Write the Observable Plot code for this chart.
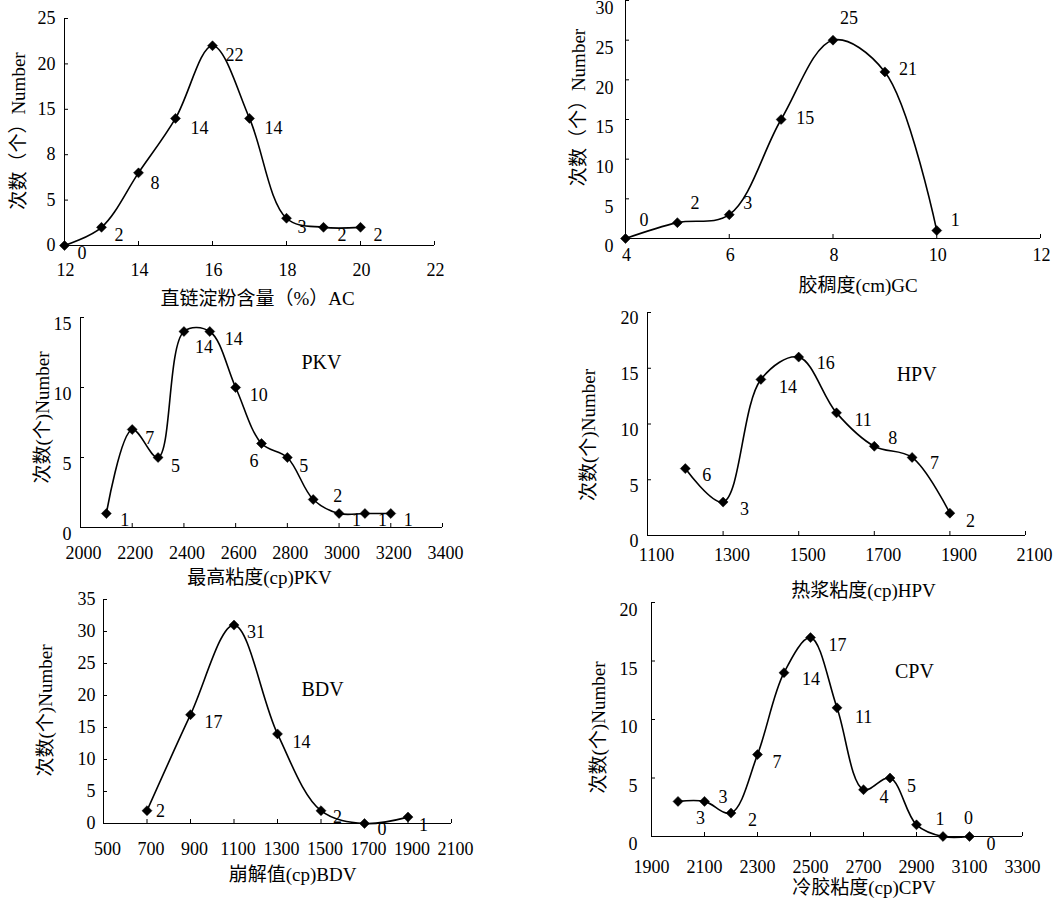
<!DOCTYPE html>
<html><head><meta charset="utf-8">
<script src="https://cdn.jsdelivr.net/npm/d3@7"></script>
<script src="https://cdn.jsdelivr.net/npm/@observablehq/plot@0.6"></script>
<style>
body{margin:0;background:#fff;}
#wrap{position:relative;width:1059px;height:900px;overflow:hidden;background:#fff;}
#wrap svg{position:absolute;}
</style></head><body><div id="wrap"></div>
<script>
// ---- data ----
const acX = [12,13,14,15,16,17,18,19,20];
const acN = [0,2,8,14,22,14,3,2,2];
const acXTicks = [12,14,16,18,20,22];
const acYTicks = [0,5,10,15,20,25];
const acYTickLabels = ["0","5","8","15","20","25"];

const gcX = [4,5,6,7,8,9,10];
const gcN = [0,2,3,15,25,21,1];
const gcXTicks = [4,6,8,10,12];
const gcYTicks = [0,5,10,15,20,25,30];

const pkvX = [2100,2200,2300,2400,2500,2600,2700,2800,2900,3000,3100,3200];
const pkvN = [1,7,5,14,14,10,6,5,2,1,1,1];
const pkvXTicks = [2000,2200,2400,2600,2800,3000,3200,3400];
const pkvYTicks = [0,5,10,15];

const hpvX = [1200,1300,1400,1500,1600,1700,1800,1900];
const hpvN = [6,3,14,16,11,8,7,2];
const hpvXTicks = [1100,1300,1500,1700,1900,2100];
const hpvYTicks = [0,5,10,15,20];

const bdvX = [700,900,1100,1300,1500,1700,1900];
const bdvN = [2,17,31,14,2,0,1];
const bdvXTicks = [500,700,900,1100,1300,1500,1700,1900,2100];
const bdvYTicks = [0,5,10,15,20,25,30,35];

const cpvX = [2000,2100,2200,2300,2400,2500,2600,2700,2800,2900,3000,3100];
const cpvN = [3,3,2,7,14,17,11,4,5,1,0,0];
const cpvXTicks = [1900,2100,2300,2500,2700,2900,3100,3300];
const cpvYTicks = [0,5,10,15,20];

// ---- label offsets (pixels) ----
const acOff = [[13,8],[13,8],[12,10],[15,10],[13,9],[15,10],[11,9],[14,8],[13,8]];
const gcOff = [[14,-18],[13,-19],[14,-11],[15,-1],[7,-22],[14,-3],[14,-10]];
const pkvOff = [[14,7],[13,9],[13,9],[11,16],[15,8],[14,8],[-12,18],[12,9],[20,-3],[13,7],[13,7],[13,7]];
const hpvOff = [[17,7],[17,7],[18,8],[18,6],[18,7],[14,-8],[18,6],[16,8]];
const bdvOff = [[9,1],[14,8],[13,7],[15,8],[12,7],[13,6],[11,8]];
const cpvOff = [[18,17],[14,-4],[17,7],[15,8],[18,7],[18,8],[18,9],[16,8],[17,8],[19,-6],[21,-18],[17,8]];

const FONT = "'Liberation Serif','Times New Roman','Noto Sans CJK SC',serif";
const wrap = document.getElementById("wrap");

function panel(c) {
  const [L, T, W, H] = c.box;
  const [x0, x1, yTop, yBot] = c.frame;
  const xmin = c.xDomain[0], ymin = c.yDomain[0];
  const xPerPx = (c.xDomain[1] - c.xDomain[0]) / (x1 - x0);
  const yPerPx = (c.yDomain[1] - c.yDomain[0]) / (yBot - yTop);
  const tick = 4;
  const data = c.xs.map((x, i) => ({x, y: c.ys[i]}));
  const yFmt = c.yLabels ? (d => c.yLabels[c.yTicks.indexOf(d)]) : (d => String(d));
  const marks = [
    Plot.ruleY([ymin], {stroke: "#000", strokeWidth: 1}),
    Plot.ruleX([xmin], {stroke: "#000", strokeWidth: 1}),
    // inward tick marks
    Plot.ruleX(c.xTicks, {x: d => d, y1: () => ymin, y2: () => ymin + tick * yPerPx, stroke: "#000", strokeWidth: 1}),
    Plot.ruleY(c.yTicks, {y: d => d, x1: () => xmin, x2: () => xmin + tick * xPerPx, stroke: "#000", strokeWidth: 1}),
    // tick labels
    Plot.text(c.xTicks, {x: d => d, y: () => ymin, text: d => String(d), dx: c.xLabDx, dy: c.xLabDy, fontSize: 18, fill: "#000"}),
    Plot.text(c.yTicks, {x: () => xmin, y: d => d, text: yFmt, dx: -c.yPad, dy: c.yDy, textAnchor: "end", fontSize: 18, fill: "#000"}),
    Plot.line(data, {x: "x", y: "y", curve: "catmull-rom", stroke: "#000", strokeWidth: 1.6}),
    Plot.dot(data, {x: "x", y: "y", symbol: "diamond2", r: 4.5, fill: "#000", stroke: "#000", strokeWidth: 0.5}),
    ...data.map((d, i) => Plot.text([d], {x: "x", y: "y", text: e => String(e.y), dx: c.off[i][0], dy: c.off[i][1], textAnchor: "start", fontSize: 18, fill: "#000"})),
    Plot.text([c.xTitle], {frameAnchor: "bottom", textAnchor: "middle", lineAnchor: "middle", dx: c.xTitlePos[0], dy: c.xTitlePos[1], fontSize: 19, fill: "#000"}),
    Plot.text([c.yTitle], {frameAnchor: "left", textAnchor: "middle", lineAnchor: "middle", rotate: -90, dx: c.yTitlePos[0], dy: c.yTitlePos[1], fontSize: 19, fill: "#000"})
  ];
  if (c.tag) marks.push(Plot.text([{x: c.tagXY[0], y: c.tagXY[1], t: c.tag}], {x: "x", y: "y", text: "t", fontSize: 20, fill: "#000"}));
  const svg = Plot.plot({
    width: W, height: H,
    marginLeft: x0 - L, marginRight: L + W - x1, marginTop: yTop - T, marginBottom: T + H - yBot,
    x: {domain: c.xDomain, axis: null},
    y: {domain: c.yDomain, axis: null},
    style: {fontFamily: FONT, fontSize: "18px", color: "#000", background: "transparent", overflow: "visible"},
    marks
  });
  svg.style.left = L + "px";
  svg.style.top = T + "px";
  wrap.appendChild(svg);
}

panel({box: [0, 0, 540, 305], frame: [64, 434, 18, 245], xDomain: [12, 22], yDomain: [0, 25],
  xs: acX, ys: acN, off: acOff, xTicks: acXTicks, yTicks: acYTicks, yLabels: acYTickLabels,
  xLabDx: 1, xLabDy: 25, yPad: 9, yDy: 0,
  xTitle: "直链淀粉含量（%）AC", xTitlePos: [8, 53], yTitle: "次数（个）Number", yTitlePos: [-46, -1]});

panel({box: [545, 0, 514, 300], frame: [625, 1040, 0, 238], xDomain: [4, 12], yDomain: [0, 30],
  xs: gcX, ys: gcN, off: gcOff, xTicks: gcXTicks, yTicks: gcYTicks,
  xLabDx: 1, xLabDy: 17, yPad: 12, yDy: 8,
  xTitle: "胶稠度(cm)GC", xTitlePos: [25, 47], yTitle: "次数（个）Number", yTitlePos: [-47, -12]});

panel({box: [0, 305, 540, 280], frame: [80, 442, 317, 527], xDomain: [2000, 3400], yDomain: [0, 15],
  xs: pkvX, ys: pkvN, off: pkvOff, xTicks: pkvXTicks, yTicks: pkvYTicks,
  xLabDx: 3, xLabDy: 26, yPad: 9, yDy: 7,
  xTitle: "最高粘度(cp)PKV", xTitlePos: [-2, 50], yTitle: "次数(个)Number", yTitlePos: [-38, -5],
  tag: "PKV", tagXY: [2932, 11.8]});

panel({box: [545, 300, 514, 300], frame: [647, 1025, 312, 535], xDomain: [1100, 2100], yDomain: [0, 20],
  xs: hpvX, ys: hpvN, off: hpvOff, xTicks: hpvXTicks, yTicks: hpvYTicks,
  xLabDx: 9, xLabDy: 20, yPad: 9, yDy: 6,
  xTitle: "热浆粘度(cp)HPV", xTitlePos: [27, 55], yTitle: "次数(个)Number", yTitlePos: [-59, 11],
  tag: "HPV", tagXY: [1812, 14.45]});

panel({box: [0, 585, 540, 315], frame: [103, 451, 599, 823], xDomain: [500, 2100], yDomain: [0, 35],
  xs: bdvX, ys: bdvN, off: bdvOff, xTicks: bdvXTicks, yTicks: bdvYTicks,
  xLabDx: 4, xLabDy: 26, yPad: 8, yDy: 0,
  xTitle: "崩解值(cp)BDV", xTitlePos: [15, 51], yTitle: "次数(个)Number", yTitlePos: [-58, -1],
  tag: "BDV", tagXY: [1507, 20.9]});

panel({box: [545, 595, 514, 305], frame: [651, 1022, 602, 836], xDomain: [1900, 3300], yDomain: [0, 20],
  xs: cpvX, ys: cpvN, off: cpvOff, xTicks: cpvXTicks, yTicks: cpvYTicks,
  xLabDx: 0, xLabDy: 31, yPad: 14, yDy: 8,
  xTitle: "冷胶粘度(cp)CPV", xTitlePos: [27, 51], yTitle: "次数(个)Number", yTitlePos: [-53, 8],
  tag: "CPV", tagXY: [2892, 14.1]});
</script>
</body></html>
